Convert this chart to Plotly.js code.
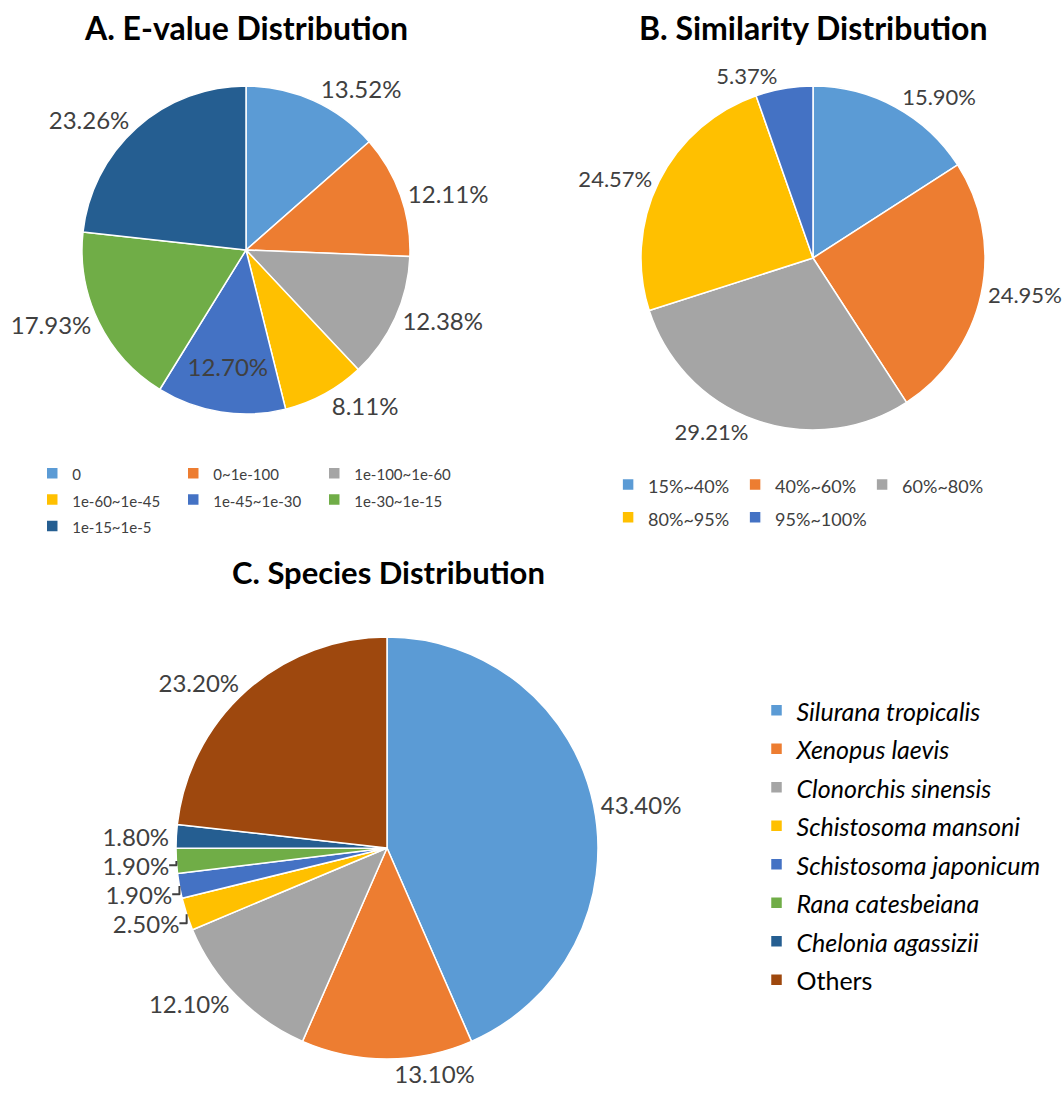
<!DOCTYPE html>
<html>
<head>
<meta charset="utf-8">
<script src="https://cdn.plot.ly/plotly-3.0.1.min.js"></script>
<style>
html,body{margin:0;padding:0;background:#fff;}
#wrap{position:relative;width:1064px;height:1093px;overflow:hidden;}
.p{position:absolute;}
.p svg{overflow:visible !important;}
#pa{left:0;top:0;width:520px;height:545px;}
#pb{left:594px;top:0;width:470px;height:545px;}
#pc{left:0;top:545px;width:1064px;height:548px;}
</style>
</head>
<body>
<div id="wrap">
<div id="pa" class="p"></div>
<div id="pb" class="p"></div>
<div id="pc" class="p"></div>
</div>
<script>
// ---- Data ----
const evalueLabels = ["0", "0~1e-100", "1e-100~1e-60", "1e-60~1e-45", "1e-45~1e-30", "1e-30~1e-15", "1e-15~1e-5"];
const evalueValues = [13.52, 12.11, 12.38, 8.11, 12.70, 17.93, 23.26];

const simLabels = ["15%~40%", "40%~60%", "60%~80%", "80%~95%", "95%~100%"];
const simValues = [15.90, 24.95, 29.21, 24.57, 5.37];

const speciesLabels = ["Silurana tropicalis", "Xenopus laevis", "Clonorchis sinensis", "Schistosoma mansoni", "Schistosoma japonicum", "Rana catesbeiana", "Chelonia agassizii", "Others"];
const speciesItalic = [true, true, true, true, true, true, true, false];
const speciesValues = [43.40, 13.10, 12.10, 2.50, 1.90, 1.90, 1.80, 23.20];

const titles = ["A. E-value Distribution", "B. Similarity Distribution", "C. Species Distribution"];

// ---- Styles ----
const palette = ["#5B9BD5", "#ED7D31", "#A5A5A5", "#FFC000", "#4472C4", "#70AD47", "#255E91", "#9E480E"];
const FONT = "Lato, 'Open Sans', sans-serif";
const config = {displayModeBar: false, staticPlot: true};

function dom(W, H, cx, cy, r) {
  return {x: [(cx - r) / W, (cx + r) / W], y: [1 - (cy + r) / H, 1 - (cy - r) / H]};
}
function sized(labels, px) {
  return labels.map(s => '<span style="font-size:' + px + 'px">' + s + '</span>');
}
function pie(labels, values, colors, domain, fsize, positions) {
  const labelFont = {family: FONT, size: fsize, color: "#404040"};
  return {
    type: "pie", sort: false, direction: "clockwise", rotation: 0,
    labels: labels, values: values,
    textinfo: "text", texttemplate: "%{value:.2f}%",
    textposition: positions || "outside",
    outsidetextfont: labelFont, insidetextfont: labelFont,
    insidetextorientation: "horizontal",
    hoverinfo: "label+value",
    marker: {colors: colors, line: {color: "#ffffff", width: 1.5}},
    domain: domain
  };
}
function baseLayout(W, H, title, tx, tsize) {
  return {
    width: W, height: H,
    margin: {l: 0, r: 0, t: 0, b: 0, autoexpand: false},
    paper_bgcolor: "rgba(0,0,0,0)",
    font: {family: FONT, color: "#404040"},
    showlegend: true,
    annotations: [{text: "<b>" + title + "</b>", x: tx / W, y: 1 - 27 / H, xref: "paper", yref: "paper",
                   showarrow: false, xanchor: "center", yanchor: "middle",
                   font: {family: FONT, size: tsize, color: "#000000", weight: "bold"}}]
  };
}

// ---- A ----
(function () {
  const W = 520, H = 545;
  const posA = evalueLabels.map((_, i) => i === 4 ? "inside" : "outside");
  const t = pie(sized(evalueLabels, 15), evalueValues, palette.slice(0, 7), dom(W, H, 246, 250, 164), 24, posA);
  const L = baseLayout(W, H, titles[0], 246, 32);
  L.legend = {orientation: "h", x: 0.062, xanchor: "left", y: 1 - 455 / H, yanchor: "top",
              entrywidth: 96, font: {family: FONT, size: 18, color: "#404040"}, traceorder: "normal"};
  Plotly.newPlot("pa", [t], L, config);
})();

// ---- B ----
(function () {
  const W = 470, H = 545;
  const t = pie(sized(simLabels, 18), simValues, palette.slice(0, 5), dom(W, H, 219, 258, 172), 22);
  const L = baseLayout(W, H, titles[1], 219, 32);
  L.legend = {orientation: "h", x: 0.03, xanchor: "left", y: 1 - 463 / H, yanchor: "top",
              entrywidth: 82, font: {family: FONT, size: 23, color: "#404040"}, traceorder: "normal"};
  Plotly.newPlot("pb", [t], L, config);
})();

// ---- C ----
(function () {
  const W = 1064, H = 548;
  const labs = speciesLabels.map((s, i) => speciesItalic[i] ? "<i>" + s + "</i>" : s);
  const t = pie(sized(labs, 25), speciesValues, palette.slice(0, 8), dom(W, H, 387, 303, 211), 24);
  const L = baseLayout(W, H, titles[2], 388, 31);
  L.legend = {orientation: "v", x: 0.711, xanchor: "left", y: 1 - 141 / H, yanchor: "top",
              font: {family: FONT, size: 27.3, color: "#000000"}, traceorder: "normal"};
  Plotly.newPlot("pc", [t], L, config);
})();
</script>
</body>
</html>
